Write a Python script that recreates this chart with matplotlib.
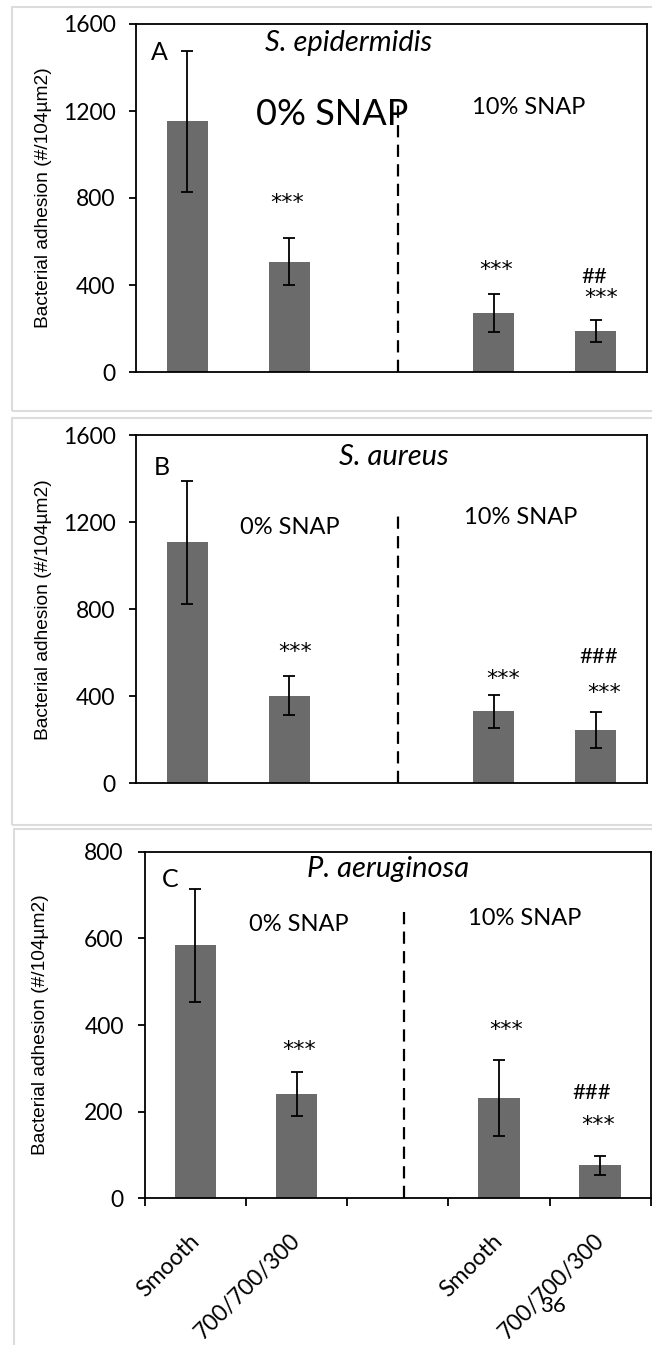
import numpy as np
import matplotlib.pyplot as plt
from matplotlib.patches import Rectangle
from matplotlib.transforms import ScaledTranslation

# bar order: 0% SNAP smooth, 0% SNAP 700/700/300, 10% SNAP smooth, 10% SNAP 700/700/300
x_pos = [0, 1, 3, 4]
tick_names = ['Smooth', '700/700/300', '', 'Smooth', '700/700/300']

epi_mean = [1152, 508, 270, 189]
epi_err = [324, 108, 88, 50]
aur_mean = [1107, 403, 330, 245]
aur_err = [283, 89, 77, 81]
aer_mean = [584, 241, 232, 76]
aer_err = [130, 50, 88, 22]

bar_color = '#6b6b6b'
tick_font = 'Lato'

fig = plt.figure(figsize=(6.52, 13.45), dpi=100)
W, H = 652.0, 1345.0

# light grey frames around each panel
for (x0, y0, x1, y1) in [(11.6, 7.3, 662, 410.7), (12, 418.3, 662, 825), (13.7, 829.4, 662, 1352)]:
    fig.patches.append(Rectangle((x0 / W, 1 - y1 / H), (x1 - x0) / W, (y1 - y0) / H,
                                 transform=fig.transFigure, fill=False,
                                 edgecolor='#dcdcdc', lw=1.5))


def panel(rect, means, errs, ymax, step, letter, title, big0, labs, dash_top, xlabels, ylab_x):
    ax = fig.add_axes([rect[0] / W, 1 - rect[3] / H, (rect[2] - rect[0]) / W, (rect[3] - rect[1]) / H])
    ax.bar(x_pos, means, width=0.41, color=bar_color, zorder=2)
    ax.errorbar(x_pos, means, yerr=errs, fmt='none', ecolor='black', elinewidth=1.3,
                capsize=4, capthick=1.3, zorder=3)
    ax.set_xlim(-0.5, 4.5)
    ax.set_ylim(0, ymax)
    ax.set_yticks(np.arange(0, ymax + 1, step))
    ax.vlines(2.06, 0, dash_top, colors='black', linestyles=(0, (5.5, 3.3)), lw=1.6)
    for s in ax.spines.values():
        s.set_linewidth(1.3)
    ax.tick_params(axis='y', direction='out', length=5, width=1.3, pad=10, labelsize=16.5)
    for t in ax.get_yticklabels():
        t.set_fontfamily(tick_font)
    if xlabels:
        ax.set_xticks([-0.5, 0.5, 1.5, 2.5, 3.5, 4.5], minor=True)
        ax.tick_params(axis='x', which='minor', direction='out', length=6, width=1.3)
        ax.set_xticks(range(5))
        ax.set_xticklabels(tick_names, rotation=45, ha='right', rotation_mode='anchor',
                           fontsize=16.5, fontfamily=tick_font)
        ax.tick_params(axis='x', which='major', length=0, pad=23)
        shift = ScaledTranslation(-5 / 72, 0, fig.dpi_scale_trans)
        for t in ax.get_xticklabels():
            t.set_transform(t.get_transform() + shift)
    else:
        ax.set_xticks([])
    ax.set_ylabel('Bacterial adhesion (#/104µm2)', fontsize=13.8, fontfamily='Liberation Sans')
    ax.yaxis.set_label_coords(ylab_x, 0.5)

    ax.text(letter[1], letter[2], letter[0], ha='left', va='center', fontsize=18, fontfamily=tick_font)
    ax.text(title[1], title[2], title[0], ha='center', va='center', fontsize=21,
            fontstyle='italic', fontfamily=tick_font)
    ax.text(big0[1], big0[2], '0% SNAP', ha='center', va='center', fontsize=big0[0], fontfamily=tick_font)
    ax.text(big0[3], big0[4], '10% SNAP', ha='center', va='center', fontsize=17, fontfamily=tick_font)
    for txt, x, y in labs:
        if txt.startswith('#'):
            ax.text(x, y, txt, ha='center', va='center', fontsize=16, fontfamily=tick_font)
        else:
            ax.text(x, y, txt, ha='center', va='center', fontsize=16, fontfamily='DejaVu Sans')
    return ax


panel((136.4, 24, 646.6, 372), epi_mean, epi_err, 1600, 400,
      ('A', -0.36, 1471), ('S. epidermidis', 1.58, 1513), (26, 1.42, 1182, 3.34, 1214),
      [('***', 0.98, 777), ('***', 3.03, 469), ('##', 3.99, 437), ('***', 4.05, 340)],
      1255, False, -0.165)

panel((136.4, 435, 646.6, 783.3), aur_mean, aur_err, 1600, 400,
      ('B', -0.33, 1453), ('S. aureus', 2.02, 1499), (17, 1.0, 1177, 3.27, 1219),
      [('***', 1.06, 604), ('***', 3.09, 479), ('###', 4.03, 582), ('***', 4.08, 416)],
      1248, False, -0.165)

panel((144.7, 851.8, 650.7, 1198.3), aer_mean, aer_err, 800, 200,
      ('C', -0.33, 735), ('P. aeruginosa', 1.9, 761), (17, 1.02, 633, 3.25, 645),
      [('***', 1.03, 342), ('***', 3.07, 388), ('###', 3.92, 243), ('***', 3.98, 170)],
      661, True, -0.189)

fig.text(553 / W, 1 - 1306 / H, '36', ha='center', va='center', fontsize=16, fontfamily=tick_font)

fig.savefig('out.png', dpi=100)
